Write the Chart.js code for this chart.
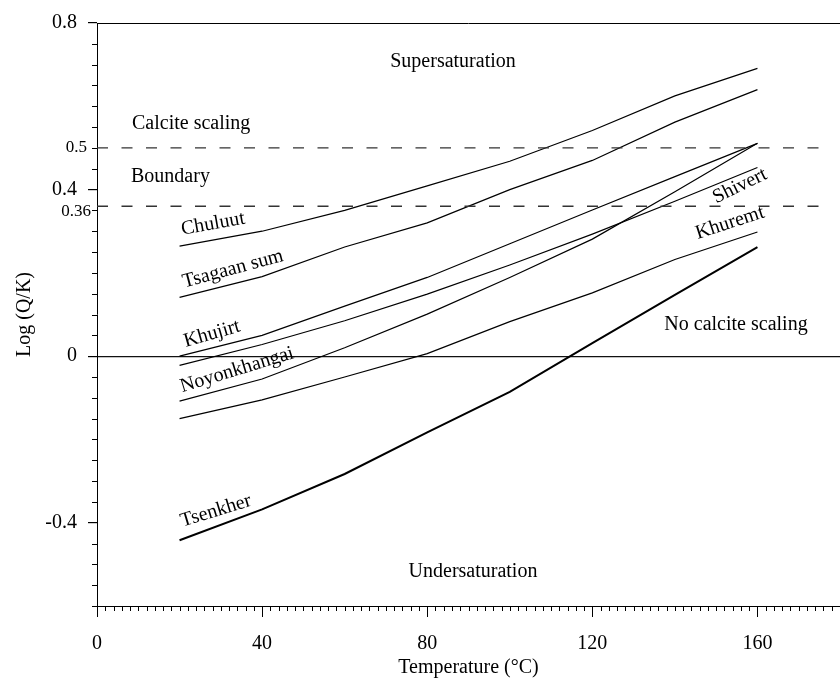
<!DOCTYPE html>
<html>
<head>
<meta charset="utf-8">
<script src="https://cdn.jsdelivr.net/npm/chart.js@4.4.0/dist/chart.umd.min.js"></script>
<style>
  html, body { margin: 0; padding: 0; background: #fff; }
  #wrap { width: 840px; height: 678px; position: relative; }
</style>
</head>
<body>
<div id="wrap"><canvas id="c"></canvas></div>
<script>
// Saturation index log(Q/K) of calcite against temperature for each spring
const temperatures = [20, 40, 60, 80, 100, 120, 140, 160];
const chuluut      = [0.264, 0.300, 0.350, 0.409, 0.468, 0.542, 0.625, 0.691];
const tsagaanSum   = [0.141, 0.191, 0.262, 0.320, 0.400, 0.470, 0.562, 0.640];
const khujirt      = [0.000, 0.050, 0.120, 0.189, 0.270, 0.351, 0.431, 0.511];
const shivert      = [-0.022, 0.028, 0.085, 0.149, 0.219, 0.293, 0.372, 0.453];
const noyonkhangai = [-0.108, -0.055, 0.020, 0.101, 0.189, 0.281, 0.395, 0.511];
const khuremt      = [-0.150, -0.105, -0.050, 0.006, 0.083, 0.152, 0.232, 0.298];
const tsenkher     = [-0.442, -0.368, -0.283, -0.183, -0.086, 0.031, 0.147, 0.262];

// Axis ticks
const xTickValues = [0, 40, 80, 120, 160];
const yTickValues = [0.8, 0.4, 0, -0.4];

// Calcite scaling boundary levels and the temperature span of their dashed lines
const boundaryLevels = [0.5, 0.36];
const boundaryLabels = ['0.5', '0.36'];
const boundarySpan = [0, 177];

const SERIF = "'Liberation Serif', 'Times New Roman', serif";

function series(values) {
  return temperatures.map((t, i) => ({ x: t, y: values[i] }));
}
function curve(label, values, width) {
  return {
    label, data: series(values), borderColor: '#000', borderWidth: width || 1.2,
    pointRadius: 0, tension: 0, fill: false
  };
}
const boundarySets = boundaryLevels.map((lv, i) => ({
  label: 'boundary ' + boundaryLabels[i],
  data: boundarySpan.map(t => ({ x: t, y: lv })),
  borderColor: '#333', borderWidth: 1.3, borderDash: [11, 13.5],
  pointRadius: 0, fill: false
}));

// Minor tick marks, the top frame line, the small boundary labels and region captions
const decorations = {
  id: 'decorations',
  afterDraw(chart) {
    const { ctx, scales: { x, y }, chartArea: a } = chart;
    ctx.save();
    ctx.strokeStyle = '#000';
    ctx.lineWidth = 1;
    ctx.beginPath();
    for (let v = 0; v <= 180; v += 2) {
      if (xTickValues.includes(v)) continue;
      const px = Math.round(x.getPixelForValue(v)) + 0.5;
      ctx.moveTo(px, a.bottom);
      ctx.lineTo(px, a.bottom + 5);
    }
    for (let k = -12; k <= 16; k++) {
      if (k % 8 === 0) continue;
      const py = Math.round(y.getPixelForValue(k * 0.05)) + 0.5;
      ctx.moveTo(a.left - 5, py);
      ctx.lineTo(a.left, py);
    }
    // top frame
    const ty = Math.round(a.top) + 0.5;
    ctx.moveTo(a.left, ty);
    ctx.lineTo(a.right, ty);
    ctx.stroke();

    ctx.fillStyle = '#000';
    ctx.textBaseline = 'middle';
    ctx.textAlign = 'right';
    ctx.font = '17px ' + SERIF;
    ctx.fillText(boundaryLabels[0], a.left - 10, y.getPixelForValue(boundaryLevels[0]));
    ctx.fillText(boundaryLabels[1], a.left - 6, y.getPixelForValue(boundaryLevels[1]) + 5);

    ctx.font = '20px ' + SERIF;
    ctx.textAlign = 'left';
    ctx.fillText('Calcite scaling', 132, 124);
    ctx.fillText('Boundary', 131, 177);
    ctx.textAlign = 'center';
    ctx.fillText('Supersaturation', 453, 62);
    ctx.fillText('No calcite scaling', 736, 325);
    ctx.fillText('Undersaturation', 473, 572);

    const tags = [
      ['Chuluut', 213, 224, -10],
      ['Tsagaan sum', 233, 269, -15],
      ['Khujirt', 212, 334, -16],
      ['Noyonkhangai', 237, 370, -17],
      ['Tsenkher', 216, 511, -17],
      ['Shivert', 740, 186, -26],
      ['Khuremt', 730, 223, -18]
    ];
    for (const [txt, cx, cy, deg] of tags) {
      ctx.save();
      ctx.translate(cx, cy);
      ctx.rotate(deg * Math.PI / 180);
      ctx.fillText(txt, 0, 0);
      ctx.restore();
    }
    ctx.restore();
  }
};

new Chart(document.getElementById('c'), {
  type: 'line',
  data: {
    datasets: [
      ...boundarySets,
      curve('Chuluut', chuluut),
      curve('Tsagaan sum', tsagaanSum),
      curve('Khujirt', khujirt),
      curve('Shivert', shivert),
      curve('Noyonkhangai', noyonkhangai),
      curve('Khuremt', khuremt),
      curve('Tsenkher', tsenkher, 2)
    ]
  },
  options: {
    responsive: true,
    maintainAspectRatio: false,
    animation: false,
    layout: { autoPadding: false, padding: { top: 19, right: 0, left: 0, bottom: 0 } },
    plugins: { legend: { display: false }, tooltip: { enabled: false } },
    scales: {
      x: {
        type: 'linear', min: 0, max: 180,
        afterBuildTicks: s => { s.ticks = xTickValues.map(v => ({ value: v })); },
        afterFit: s => { s.height = 72; },
        border: { display: true, color: '#000', width: 1 },
        grid: { drawOnChartArea: false, drawTicks: true, tickLength: 11, tickColor: '#000', tickWidth: 1 },
        ticks: { color: '#000', font: { family: SERIF, size: 20 }, padding: 15, maxRotation: 0 },
        title: {
          display: true, text: 'Temperature (°C)', color: '#000',
          font: { family: SERIF, size: 20, lineHeight: 1 }, padding: { top: 0, bottom: 0 }
        }
      },
      y: {
        type: 'linear', min: -0.6, max: 0.8,
        afterBuildTicks: s => { s.ticks = yTickValues.map(v => ({ value: v })); },
        afterFit: s => { s.width = 97; },
        border: { display: true, color: '#000', width: 1 },
        grid: {
          drawOnChartArea: true, drawTicks: true, tickLength: 9, tickColor: '#000',
          color: c => (c.tick && c.tick.value === 0) ? '#111' : 'rgba(0,0,0,0)', lineWidth: 1.2
        },
        ticks: { color: '#000', font: { family: SERIF, size: 20 }, padding: 11 },
        title: {
          display: true, text: 'Log (Q/K)', color: '#000',
          font: { family: SERIF, size: 20, lineHeight: 1 }, padding: { top: 15, bottom: 0 }
        }
      }
    }
  },
  plugins: [decorations]
});
</script>
</body>
</html>
